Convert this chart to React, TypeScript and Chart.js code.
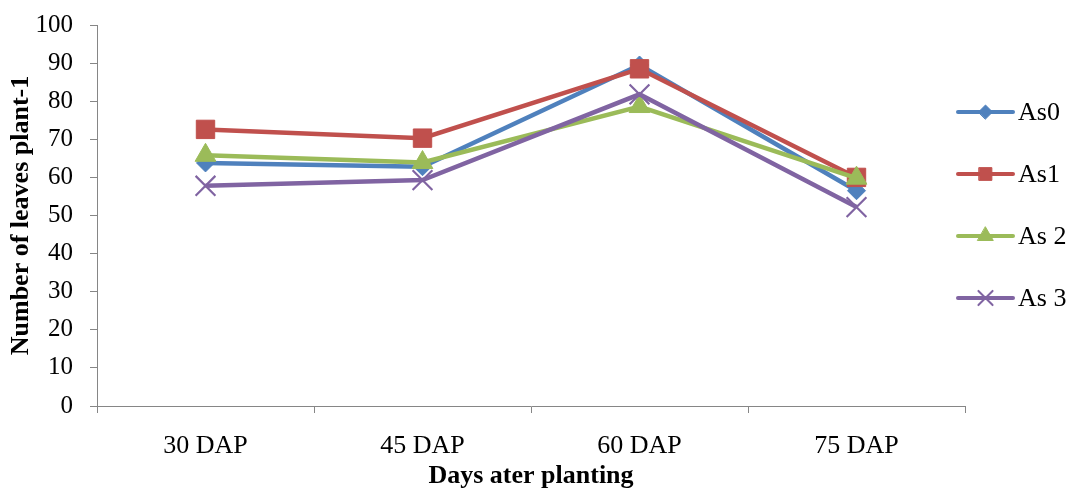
import { useEffect, useRef } from 'react';
import { Chart, registerables } from 'chart.js';
import { drawPoint } from 'chart.js/helpers';

Chart.register(...registerables);

// Sampling times and mean leaf counts per arsenic treatment
const categories = ['30 DAP', '45 DAP', '60 DAP', '75 DAP'];
const seriesNames = ['As0', 'As1', 'As 2', 'As 3'];
const as0 = [63.8, 62.8, 89.5, 56.5];
const as1 = [72.6, 70.3, 88.5, 60.0];
const as2 = [65.8, 63.9, 78.6, 59.8];
const as3 = [57.8, 59.3, 81.8, 52.2];
const yMin = 0;
const yMax = 100;
const yStep = 10;

const colors = ['#4F81BD', '#C0504D', '#9BBB59', '#8064A2'];
const pointStyles = ['rectRot', 'rect', 'triangle', 'crossRot'] as const;
const pointRadii = [9, 13, 12, 14];
const legendRadii = [7, 9, 9, 10];
const values = [as0, as1, as2, as3];

const FONT = "'Liberation Serif', 'Times New Roman', serif";
const AXIS_GREY = '#868686';

// Legend on the right: a short line with the series marker, then the name
const sideLegend = {
  id: 'sideLegend',
  afterDraw(chart: any) {
    const { ctx, chartArea } = chart;
    const x0 = chartArea.right - 7;
    const x1 = x0 + 55;
    const xm = (x0 + x1) / 2;
    chart.data.datasets.forEach((ds: any, i: number) => {
      const y = chartArea.top + 87 + i * 62;
      ctx.save();
      ctx.strokeStyle = ds.borderColor;
      ctx.lineWidth = 4;
      ctx.lineCap = 'round';
      ctx.beginPath();
      ctx.moveTo(x0, y);
      ctx.lineTo(x1, y);
      ctx.stroke();
      ctx.fillStyle = ds.borderColor;
      ctx.strokeStyle = ds.borderColor;
      ctx.lineWidth = i === 3 ? 2 : 1;
      drawPoint(ctx, { pointStyle: pointStyles[i], radius: legendRadii[i], rotation: 0, borderWidth: ctx.lineWidth }, xm, y);
      ctx.fillStyle = '#000';
      ctx.font = `26px ${FONT}`;
      ctx.textAlign = 'left';
      ctx.textBaseline = 'middle';
      ctx.fillText(seriesNames[i], x1 + 5, y + 1);
      ctx.restore();
    });
  },
};

export default function App() {
  const canvasRef = useRef<HTMLCanvasElement | null>(null);

  useEffect(() => {
    document.body.style.margin = '0';
    const canvas = canvasRef.current;
    if (!canvas) return;
    const chart = new Chart(canvas, {
      type: 'line',
      data: {
        labels: categories,
        datasets: values.map((v, i) => ({
          label: seriesNames[i],
          data: v,
          borderColor: colors[i],
          backgroundColor: colors[i],
          borderWidth: 4.5,
          pointStyle: pointStyles[i],
          pointRadius: pointRadii[i],
          pointHoverRadius: pointRadii[i],
          pointBackgroundColor: colors[i],
          pointBorderColor: colors[i],
          pointBorderWidth: i === 3 ? 2.2 : 1,
          tension: 0,
          order: 4 - i,
        })),
      },
      options: {
        responsive: false,
        animation: false,
        devicePixelRatio: 1,
        layout: { padding: { top: 25, right: 105, bottom: 0, left: 0 } },
        plugins: {
          legend: { display: false },
          tooltip: { enabled: false },
        },
        scales: {
          x: {
            type: 'category',
            offset: true,
            grid: {
              offset: true,
              drawOnChartArea: false,
              drawTicks: true,
              tickLength: 7,
              color: AXIS_GREY,
            },
            border: { display: true, color: AXIS_GREY, width: 1 },
            ticks: {
              color: '#000',
              padding: 18,
              font: { family: FONT, size: 26 },
              maxRotation: 0,
            },
            title: {
              display: true,
              text: 'Days ater planting',
              color: '#000',
              font: { family: FONT, size: 26, weight: 'bold', lineHeight: 1 },
              padding: { top: 0, bottom: -1 },
            },
            afterFit(scale: any) {
              scale.height = 82;
              scale.paddingLeft = 0;
              scale.paddingRight = 0;
            },
          },
          y: {
            min: yMin,
            max: yMax,
            ticks: {
              stepSize: yStep,
              color: '#000',
              padding: 17,
              font: { family: FONT, size: 25 },
            },
            grid: {
              drawOnChartArea: false,
              drawTicks: true,
              tickLength: 7,
              color: AXIS_GREY,
            },
            border: { display: true, color: AXIS_GREY, width: 1 },
            title: {
              display: true,
              text: 'Number of leaves plant-1',
              color: '#000',
              font: { family: FONT, size: 26, weight: 'bold' },
              padding: { top: 6, bottom: 0 },
            },
            afterFit(scale: any) {
              scale.width = 97;
              scale.paddingTop = 0;
              scale.paddingBottom = 0;
            },
          },
        },
      },
      plugins: [sideLegend],
    });
    return () => chart.destroy();
  }, []);

  return (
    <div style={{ position: 'absolute', left: 0, top: 0, width: 1070, height: 488 }}>
      <canvas ref={canvasRef} width={1070} height={488} />
    </div>
  );
}
